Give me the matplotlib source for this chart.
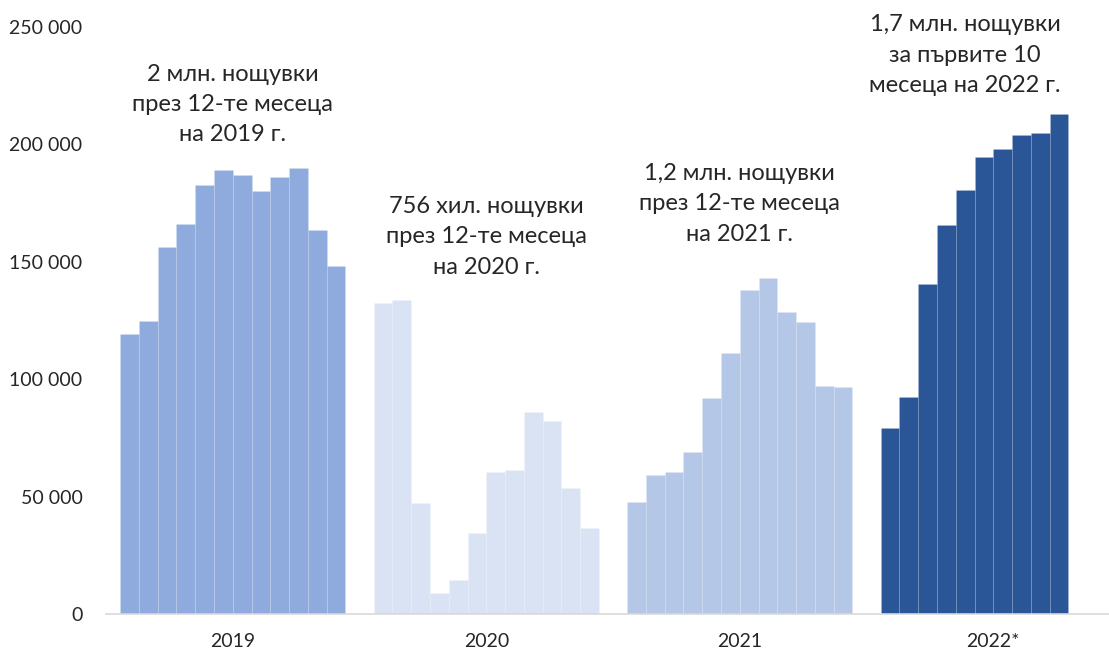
import numpy as np
from matplotlib import pyplot as plt

# monthly values (nights spent)
years = ["2019", "2020", "2021", "2022*"]
values_2019 = [119300, 124800, 156300, 166300, 182600, 189300,
               187000, 180200, 186300, 190000, 163700, 148100]
values_2020 = [132600, 133800, 47400, 8800, 14500, 34400,
               60500, 61200, 86200, 82000, 53700, 36800]
values_2021 = [47600, 59100, 60400, 69000, 92000, 111100,
               138200, 142900, 128500, 124400, 97300, 96700]
values_2022 = [79200, 92400, 140700, 165600, 180500, 194600,
               198000, 204200, 204900, 213000]
colors = ["#8FAADC", "#DAE3F3", "#B4C7E7", "#2A5597"]

notes = ["2 млн. нощувки\nпрез 12-те месеца\nна 2019 г.",
         "756 хил. нощувки\nпрез 12-те месеца\nна 2020 г.",
         "1,2 млн. нощувки\nпрез 12-те месеца\nна 2021 г.",
         "1,7 млн. нощувки\nза първите 10\nмесеца на 2022 г."]
note_x = [6.0, 19.5, 33.0, 45.0]
note_y = [217000, 160600, 174700, 238000]

yticks = [0, 50000, 100000, 150000, 200000, 250000]
ytick_labels = ["0", "50 000", "100 000", "150 000", "200 000", "250 000"]

plt.rcParams['font.family'] = ['Lato', 'DejaVu Sans']
text_color = "#262626"

fig = plt.figure(figsize=(11.09, 6.53), dpi=100)
ax = fig.add_axes([106 / 1109, 39 / 653, 1 - 106 / 1109, 587 / 653])

group_step = 13.5
all_values = [values_2019, values_2020, values_2021, values_2022]
for g, vals in enumerate(all_values):
    x = g * group_step + np.arange(len(vals))
    ax.bar(x, vals, width=1.0, align='edge', color=colors[g],
           edgecolor=(1, 1, 1, 0.12), linewidth=0.6)

for i in range(len(notes)):
    ax.text(note_x[i], note_y[i], notes[i], ha='center', va='center',
            fontsize=17, color=text_color, linespacing=1.55)

ax.set_xlim(-0.75, 52.66)
ax.set_ylim(0, 250000)
ax.set_yticks(yticks)
ax.set_yticklabels(ytick_labels)
ax.set_xticks([g * group_step + 6 for g in range(len(years))])
ax.set_xticklabels(years)
ax.tick_params(axis='both', length=0, labelsize=14, colors=text_color)
ax.tick_params(axis='y', pad=17)
ax.tick_params(axis='x', pad=14)

for side in ['top', 'right', 'left']:
    ax.spines[side].set_visible(False)
ax.spines['bottom'].set_color("#D9D9D9")
ax.spines['bottom'].set_linewidth(1.2)

fig.savefig("out.png", dpi=100)
